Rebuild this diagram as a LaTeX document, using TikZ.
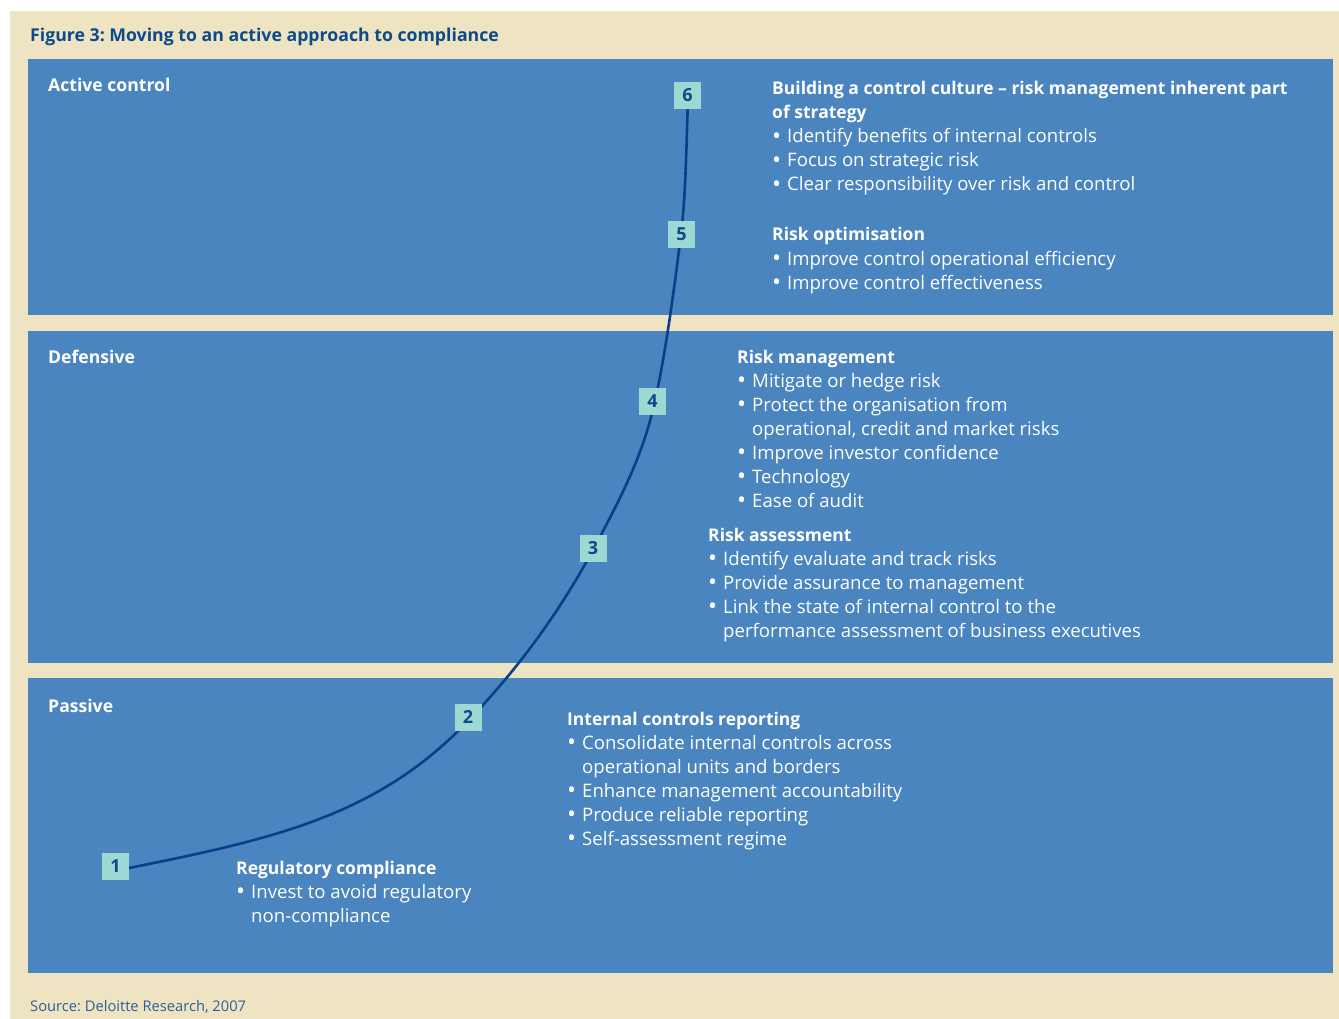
\documentclass[tikz,border=0pt]{standalone}
\usepackage{fontspec}
\setmainfont{Open Sans}
\frenchspacing
\definecolor{paper}{HTML}{EFE4C1}
\definecolor{panel}{HTML}{4A85BF}
\definecolor{navy}{HTML}{0B4A8C}
\definecolor{curve}{HTML}{0A3F8A}
\definecolor{tile}{HTML}{9ED8D3}
\definecolor{srcblue}{HTML}{2E5E9A}
\newcommand{\bul}{\makebox[15pt][l]{\raisebox{-1.5pt}{\fontsize{24}{24}\selectfont\textbullet}}}
\newcommand{\ind}{\hspace*{15pt}}
\newcommand{\hd}[1]{{\fontsize{17.5}{24}\selectfont\bfseries #1}}
\begin{document}
\begin{tikzpicture}[x=1pt,y=-1pt,
  panelbox/.style={fill=panel,draw=none},
  zonelabel/.style={anchor=base west,inner sep=0pt,text=white,font=\fontsize{17.6}{24}\selectfont\bfseries},
  % multi-line notes are anchored at the baseline of their last line
  notes/.style={anchor=base west,inner sep=0pt,text=white,align=left,font=\fontsize{18.6}{24}\selectfont},
  numtile/.style={fill=tile,minimum size=27pt,inner sep=0pt,text=navy,font=\fontsize{18}{20}\selectfont\bfseries},
  path line/.style={draw=curve,line width=2.6pt}]
\useasboundingbox (0,0) rectangle (1339,1019);
\fill[white] (0,0) rectangle (1339,1019);
\fill[paper] (10,11) rectangle (1339,1019);

% title and source
\node[anchor=base west,inner sep=0pt,text=navy,font=\fontsize{17.7}{22}\selectfont\bfseries] (title) at (30,42) {Figure 3: Moving to an active approach to compliance};
\node[anchor=base west,inner sep=0pt,text=srcblue,font=\fontsize{14.7}{18}\selectfont] (source) at (30,1011) {Source: Deloitte Research, 2007};

% the three zones
\path[panelbox] (28,59) rectangle (1333,315);
\path[panelbox] (28,331) rectangle (1333,663);
\path[panelbox] (28,678) rectangle (1333,973);
\node[zonelabel] (zactive) at (48,92) {Active control};
\node[zonelabel] (zdef) at (48,363) {Defensive};
\node[zonelabel] (zpass) at (48,712) {Passive};

% positions of the stages
\coordinate (s1) at (115.5,866.5);
\coordinate (s2) at (468,717);
\coordinate (s3) at (593,548);
\coordinate (s4) at (652.5,401.5);
\coordinate (s5) at (681.5,234.5);
\coordinate (s6) at (687.5,95.5);
% points the curve runs through
\coordinate (k0) at (129,868);
\coordinate (k2) at (469,720);
\coordinate (k3) at (594,548);
\coordinate (k4) at (655,401);
\coordinate (k5) at (681,234);
\coordinate (k6) at (688,100);

% the maturity curve, tangent-continuous cubic pieces
\draw[path line] (k0) .. controls +(150,-30) and +(-90,94.5) .. (k2)
  .. controls +(40,-42) and +(-40,74.8) .. (k3)
  .. controls +(28,-52.4) and +(-12,54) .. (k4)
  .. controls +(12,-54) and +(-5,40) .. (k5)
  .. controls +(5,-40) and +(-1.5,37) .. (k6);

% stage tiles
\node[numtile] (n1) at (s1) {1};
\node[numtile] (n2) at (s2) {2};
\node[numtile] (n3) at (s3) {3};
\node[numtile] (n4) at (s4) {4};
\node[numtile] (n5) at (s5) {5};
\node[numtile] (n6) at (s6) {6};

% stage descriptions
\node[notes] (t6) at (772,191) {\hd{Building a control culture -- risk management inherent part}\\
\hd{of strategy}\\
\bul Identify benefits of internal controls\\
\bul Focus on strategic risk\\
\bul Clear responsibility over risk and control};
\node[notes] (t5) at (772,289) {\hd{Risk optimisation}\\
\bul Improve control operational efficiency\\
\bul Improve control effectiveness};
\node[notes] (t4) at (737,507) {\hd{Risk management}\\
\bul Mitigate or hedge risk\\
\bul Protect the organisation from\\
\ind operational, credit and market risks\\
\bul Improve investor confidence\\
\bul Technology\\
\bul Ease of audit};
\node[notes] (t3) at (708,637) {\hd{Risk assessment}\\
\bul Identify evaluate and track risks\\
\bul Provide assurance to management\\
\bul Link the state of internal control to the\\
\ind performance assessment of business executives};
\node[notes] (t2) at (567,845) {\hd{Internal controls reporting}\\
\bul Consolidate internal controls across\\
\ind operational units and borders\\
\bul Enhance management accountability\\
\bul Produce reliable reporting\\
\bul Self-assessment regime};
\node[notes] (t1) at (236,922) {\hd{Regulatory compliance}\\
\bul Invest to avoid regulatory\\
\ind non-compliance};
\end{tikzpicture}
\end{document}
